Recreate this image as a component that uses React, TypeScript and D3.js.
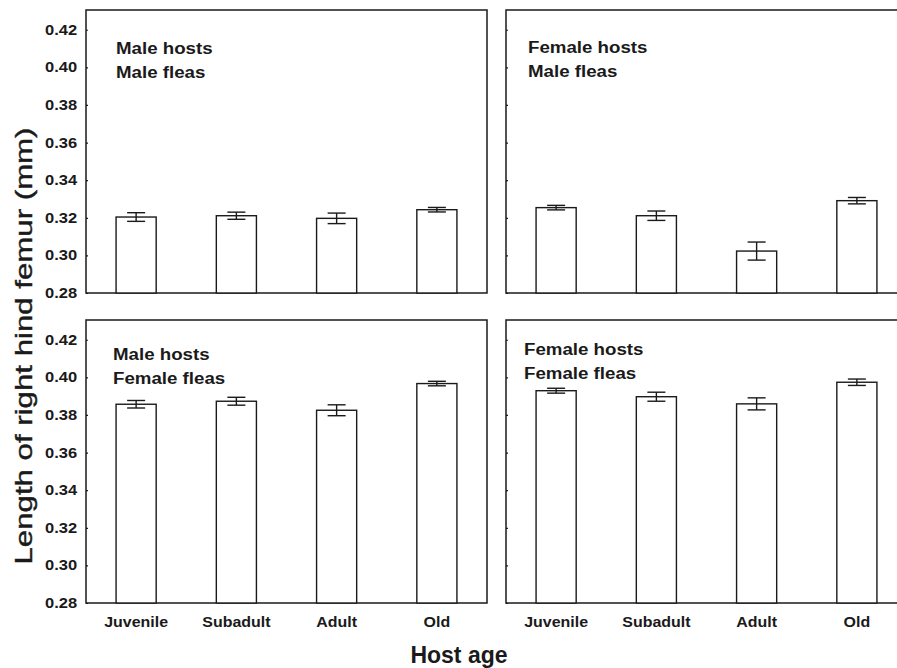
import React, { Component } from "react"
import * as d3 from "d3"

// Data
const categories = ["Juvenile", "Subadult", "Adult", "Old"]
const yTicks = [0.28, 0.3, 0.32, 0.34, 0.36, 0.38, 0.4, 0.42]

const maleHostsMaleFleas = [0.3204, 0.3211, 0.3197, 0.3243]
const maleHostsMaleFleasErr = [0.0023, 0.0019, 0.0028, 0.0012]
const femaleHostsMaleFleas = [0.3254, 0.3211, 0.3023, 0.3291]
const femaleHostsMaleFleasErr = [0.0012, 0.0025, 0.0048, 0.0017]
const maleHostsFemaleFleas = [0.3857, 0.3873, 0.3825, 0.3967]
const maleHostsFemaleFleasErr = [0.002, 0.0021, 0.0029, 0.0012]
const femaleHostsFemaleFleas = [0.3929, 0.3897, 0.3859, 0.3974]
const femaleHostsFemaleFleasErr = [0.0013, 0.0024, 0.0032, 0.0017]

const FONT = "'Liberation Sans', Arial, Helvetica, sans-serif"
const INK = "#1a1a1a"

class App extends Component {
  svg: SVGSVGElement | null = null

  componentDidMount() {
    this.drawChart()
  }

  drawChart() {
    const svg = d3.select(this.svg)
    svg.selectAll("*").remove()

    // Dimensions
    const panelW = 401
    const panelH = 283
    const lefts = [86, 506]
    const tops = [10, 320]

    const panels = [
      { col: 0, row: 0, values: maleHostsMaleFleas, errs: maleHostsMaleFleasErr, lines: ["Male hosts", "Male fleas"], lx: 30, ly: 44 },
      { col: 1, row: 0, values: femaleHostsMaleFleas, errs: femaleHostsMaleFleasErr, lines: ["Female hosts", "Male fleas"], lx: 22, ly: 43 },
      { col: 0, row: 1, values: maleHostsFemaleFleas, errs: maleHostsFemaleFleasErr, lines: ["Male hosts", "Female fleas"], lx: 27, ly: 40 },
      { col: 1, row: 1, values: femaleHostsFemaleFleas, errs: femaleHostsFemaleFleasErr, lines: ["Female hosts", "Female fleas"], lx: 18, ly: 35 },
    ]

    // Scales
    const x = d3
      .scaleBand()
      .domain(categories)
      .range([0, panelW])
      .paddingInner(0.6)
      .paddingOuter(0.3)
    const y = d3.scaleLinear().domain([0.28, 0.4305]).range([panelH, 0])

    panels.forEach(p => {
      const g = svg
        .append("g")
        .attr("transform", `translate(${lefts[p.col]}, ${tops[p.row]})`)

      // frame
      g.append("rect")
        .attr("x", 0)
        .attr("y", 0)
        .attr("width", panelW)
        .attr("height", panelH)
        .attr("fill", "none")
        .attr("stroke", INK)
        .attr("stroke-width", 1.5)

      // y axis
      const yAxis = d3
        .axisLeft(y)
        .tickValues(yTicks)
        .tickSize(-2)
        .tickPadding(7.5)
        .tickFormat(p.col === 0 ? d3.format(".2f") : () => "")
      const ya = g.append("g").call(yAxis)
      ya.select(".domain").remove()
      ya.selectAll("line").attr("stroke", INK).attr("stroke-width", 1.2)
      ya.selectAll("text")
        .attr("font-family", FONT)
        .attr("font-size", 14)
        .attr("font-weight", "bold")
        .attr("fill", INK)
        .attr("transform", "scale(1.18,1)")

      // x axis labels on bottom row
      if (p.row === 1) {
        const xa = g
          .append("g")
          .attr("transform", `translate(0, ${panelH})`)
          .call(d3.axisBottom(x).tickSize(0).tickPadding(14))
        xa.select(".domain").remove()
        xa.selectAll("text")
          .attr("font-family", FONT)
          .attr("font-size", 14)
          .attr("font-weight", "bold")
          .attr("fill", INK)
          .attr("transform", "scale(1.14,1)")
      }

      // Bars
      g.selectAll("rect.bar")
        .data(p.values)
        .enter()
        .append("rect")
        .attr("class", "bar")
        .attr("x", (d, i) => x(categories[i]))
        .attr("y", d => y(d))
        .attr("width", x.bandwidth())
        .attr("height", d => panelH - y(d))
        .attr("fill", "#fff")
        .attr("stroke", INK)
        .attr("stroke-width", 1.4)

      // Error bars
      const capW = 18
      const eb = g
        .selectAll("g.err")
        .data(p.values)
        .enter()
        .append("g")
        .attr("class", "err")
        .attr("stroke", INK)
        .attr("stroke-width", 1.4)
      eb.append("line")
        .attr("x1", (d, i) => x(categories[i]) + x.bandwidth() / 2)
        .attr("x2", (d, i) => x(categories[i]) + x.bandwidth() / 2)
        .attr("y1", (d, i) => y(d + p.errs[i]))
        .attr("y2", (d, i) => y(d - p.errs[i]))
      eb.append("line")
        .attr("x1", (d, i) => x(categories[i]) + x.bandwidth() / 2 - capW / 2)
        .attr("x2", (d, i) => x(categories[i]) + x.bandwidth() / 2 + capW / 2)
        .attr("y1", (d, i) => y(d + p.errs[i]))
        .attr("y2", (d, i) => y(d + p.errs[i]))
      eb.append("line")
        .attr("x1", (d, i) => x(categories[i]) + x.bandwidth() / 2 - capW / 2)
        .attr("x2", (d, i) => x(categories[i]) + x.bandwidth() / 2 + capW / 2)
        .attr("y1", (d, i) => y(d - p.errs[i]))
        .attr("y2", (d, i) => y(d - p.errs[i]))

      // Panel label
      p.lines.forEach((t, k) => {
        g.append("text")
          .attr("transform", `translate(${p.lx}, ${p.ly + k * 23.5}) scale(1.1,1)`)
          .attr("font-family", FONT)
          .attr("font-size", 17)
          .attr("font-weight", "bold")
          .attr("fill", INK)
          .text(t)
      })
    })

    // Axis titles
    svg.append("text")
      .attr("transform", "translate(32, 346) rotate(-90)")
      .attr("text-anchor", "middle")
      .attr("font-family", FONT)
      .attr("font-size", 24)
      .attr("fill", INK)
      .attr("stroke", INK)
      .attr("stroke-width", 0.4)
      .attr("textLength", 437)
      .attr("lengthAdjust", "spacingAndGlyphs")
      .text("Length of right hind  femur (mm)")

    svg.append("text")
      .attr("x", 459)
      .attr("y", 663)
      .attr("text-anchor", "middle")
      .attr("font-family", FONT)
      .attr("font-size", 23)
      .attr("font-weight", "bold")
      .attr("fill", INK)
      .text("Host age")
  }

  render() {
    return (
      <svg
        ref={el => { this.svg = el }}
        width={897}
        height={668}
        style={{ position: "absolute", left: 0, top: 0, background: "#fff" }}
      />
    )
  }
}

export default App
